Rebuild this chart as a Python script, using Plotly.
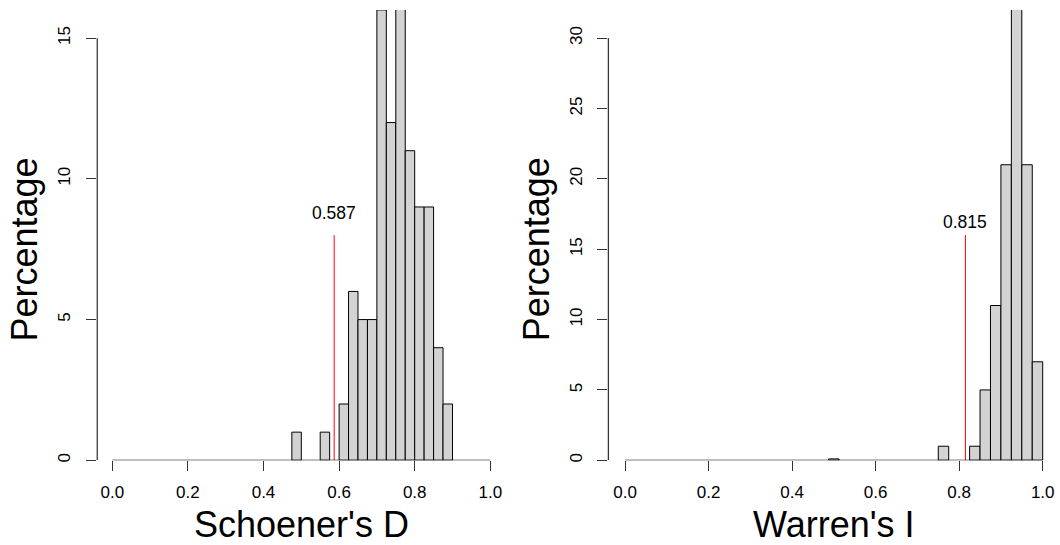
import plotly.graph_objects as go

# ---- data ----
bin_width = 0.025
d_centers = [0.4875, 0.5625, 0.6125, 0.6375, 0.6625, 0.6875, 0.7125, 0.7375,
             0.7625, 0.7875, 0.8125, 0.8375, 0.8625, 0.8875]
d_pct = [1, 1, 2, 6, 5, 5, 16, 12, 17, 11, 9, 9, 4, 2]
i_centers = [0.5, 0.7625, 0.8375, 0.8625, 0.8875, 0.9125, 0.9375, 0.9625, 0.9875]
i_pct = [0.1, 1, 1, 5, 11, 21, 33, 21, 7]
obs_d = 0.587
obs_i = 0.815
d_ymax = 16
i_ymax = 32
d_yticks = [0, 5, 10, 15]
i_yticks = [0, 5, 10, 15, 20, 25, 30]
x_ticks = [0.0, 0.2, 0.4, 0.6, 0.8, 1.0]
x_ticklabels = ["0.0", "0.2", "0.4", "0.6", "0.8", "1.0"]

W, H = 1060, 545
FONT = "Liberation Sans, Arial, Helvetica, sans-serif"

def px_x(p):
    return p / W

def px_y(p):
    return (H - p) / H

fig = go.Figure()

bar_style = dict(width=bin_width, marker=dict(color="#D3D3D3", line=dict(color="black", width=1)),
                 showlegend=False, hoverinfo="skip")
fig.add_trace(go.Bar(x=d_centers, y=d_pct, xaxis="x", yaxis="y", **bar_style))
fig.add_trace(go.Bar(x=i_centers, y=i_pct, xaxis="x2", yaxis="y2", **bar_style))

fig.add_trace(go.Scatter(x=[obs_d, obs_d], y=[0, d_ymax / 2], mode="lines",
                         line=dict(color="red", width=1), xaxis="x", yaxis="y",
                         showlegend=False, hoverinfo="skip"))
fig.add_trace(go.Scatter(x=[obs_i, obs_i], y=[0, i_ymax / 2], mode="lines",
                         line=dict(color="red", width=1), xaxis="x2", yaxis="y2",
                         showlegend=False, hoverinfo="skip"))

ydom = [px_y(462), px_y(10)]
xdom1 = [px_x(97.2), px_x(505.4)]
xdom2 = [px_x(608.3), px_x(1059.4)]

xcommon = dict(range=[-0.04, 1.04], tickvals=x_ticks, ticktext=x_ticklabels,
               ticks="outside", ticklen=10, tickwidth=1, tickcolor="#333",
               showline=False, showgrid=False, zeroline=False,
               tickfont=dict(family=FONT, size=17, color="black"),
               ticklabelstandoff=6, fixedrange=True)
ycommon = dict(ticks="outside", ticklen=10, tickwidth=1, tickcolor="#333",
               showline=False, showgrid=False, zeroline=False, tickangle=-90,
               tickfont=dict(family=FONT, size=17, color="black"),
               ticklabelstandoff=9, fixedrange=True)

fig.update_layout(
    width=W, height=H,
    margin=dict(l=0, r=0, t=0, b=0),
    paper_bgcolor="white", plot_bgcolor="white",
    barmode="overlay",
    xaxis=dict(domain=xdom1, anchor="y", **xcommon),
    xaxis2=dict(domain=xdom2, anchor="y2", **xcommon),
    yaxis=dict(domain=ydom, anchor="x", range=[0, d_ymax], tickvals=d_yticks, **ycommon),
    yaxis2=dict(domain=ydom, anchor="x2", range=[0, i_ymax], tickvals=i_yticks, **ycommon),
)

# R-style axis lines spanning only the tick range
shapes = []
for xr, yr, yt in [("x", "y", d_yticks), ("x2", "y2", i_yticks)]:
    shapes.append(dict(type="line", xref=xr, yref=yr, x0=x_ticks[0], x1=x_ticks[-1], y0=0, y1=0,
                       line=dict(color="black", width=1.3), layer="above"))
    shapes.append(dict(type="line", xref=xr + " domain", yref=yr, x0=0, x1=0, y0=yt[0], y1=yt[-1],
                       line=dict(color="black", width=1), layer="above"))
fig.update_layout(shapes=shapes)

ann = []
ann.append(dict(text=f"{obs_d:.3f}", x=obs_d, y=d_ymax / 2, xref="x", yref="y",
                xanchor="center", yanchor="bottom", yshift=10, showarrow=False,
                font=dict(family=FONT, size=17.5, color="black")))
ann.append(dict(text=f"{obs_i:.3f}", x=obs_i, y=i_ymax / 2, xref="x2", yref="y2",
                xanchor="center", yanchor="bottom", yshift=1, showarrow=False,
                font=dict(family=FONT, size=17.5, color="black")))
for txt, xc in [("Schoener's D", (97.2 + 505.4) / 2), ("Warren's I", (608.3 + 1059.4) / 2)]:
    ann.append(dict(text=txt, x=px_x(xc), y=px_y(526.7), xref="paper", yref="paper",
                    xanchor="center", yanchor="middle", showarrow=False,
                    font=dict(family=FONT, size=36, color="black")))
for xc in [25, 536.7]:
    ann.append(dict(text="Percentage", x=px_x(xc), y=px_y(250.5), xref="paper", yref="paper",
                    xanchor="center", yanchor="middle", textangle=-90, showarrow=False,
                    font=dict(family=FONT, size=36, color="black")))
fig.update_layout(annotations=ann)

fig.write_html("out.html")
